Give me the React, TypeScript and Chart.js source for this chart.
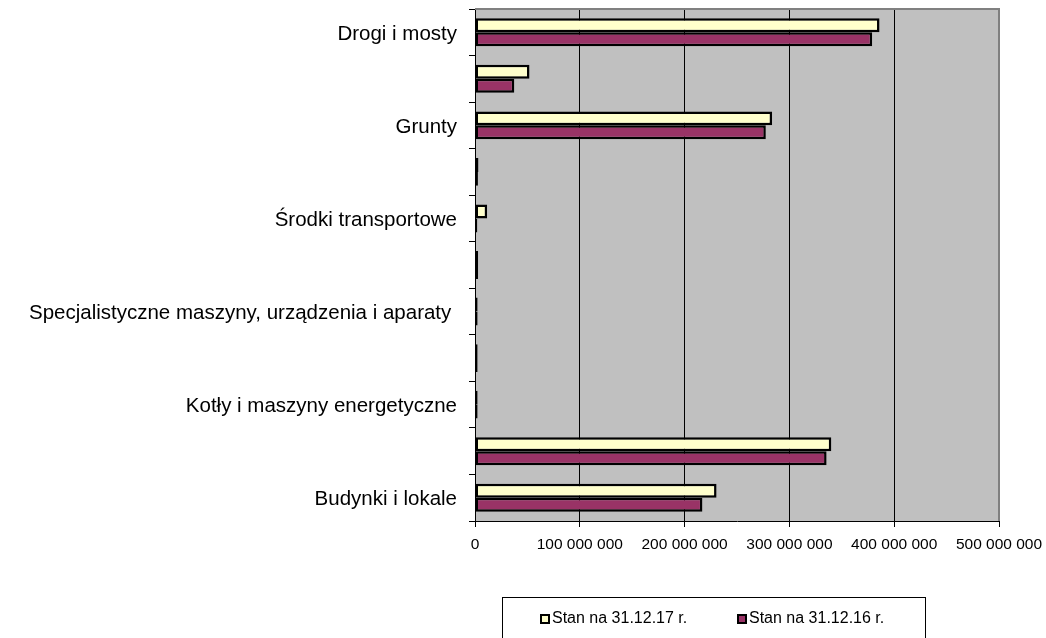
import React, { useEffect, useRef } from "react";
import { Chart, registerables } from "chart.js";

Chart.register(...registerables);

// Categories listed top-to-bottom as they appear in the chart
const categories = [
  "Drogi i mosty",
  "Wartości niematerialne i prawne",
  "Grunty",
  "Narzędzia, przyrządy, ruchomości i wyposażenie",
  "Środki transportowe",
  "Urządzenia techniczne",
  "Specjalistyczne maszyny, urządzenia i aparaty ",
  "Maszyny, urządzenia i aparaty ogólnego zastosowania",
  "Kotły i maszyny energetyczne",
  "Obiekty inżynierii lądowej i wodnej",
  "Budynki i lokale",
];

const stan17 = [386000000, 52000000, 283500000, 3300000, 11600000, 3000000, 2500000, 2500000, 2500000, 340000000, 230500000];
const stan16 = [379000000, 37500000, 277500000, 2800000, 2200000, 3000000, 2500000, 2500000, 2500000, 335500000, 217000000];

const seriesLabels = ["Stan na 31.12.17 r.", "Stan na 31.12.16 r."];
const seriesColors = ["#FFFFCC", "#993366"];

const xTickLabels = ["0", "100 000 000", "200 000 000", "300 000 000", "400 000 000", "500 000 000"];
const xMax = 500000000;
const xStep = 100000000;

const FONT = "'Liberation Sans', Arial, sans-serif";

const decorPlugin = {
  id: "decor",
  beforeDraw(chart: any) {
    const { ctx, chartArea } = chart;
    ctx.save();
    ctx.fillStyle = "#C0C0C0";
    ctx.fillRect(chartArea.left, chartArea.top, chartArea.right - chartArea.left, chartArea.bottom - chartArea.top);
    ctx.restore();
  },
  afterDraw(chart: any) {
    const { ctx, chartArea } = chart;
    ctx.save();
    // gray plot border top & right
    ctx.strokeStyle = "#808080";
    ctx.lineWidth = 2;
    ctx.beginPath();
    ctx.moveTo(chartArea.left, chartArea.top);
    ctx.lineTo(chartArea.right, chartArea.top);
    ctx.lineTo(chartArea.right, chartArea.bottom);
    ctx.stroke();

    // legend box
    const bx = 502.5, by = 597.5, bw = 423, bh = 60;
    ctx.fillStyle = "#FFFFFF";
    ctx.fillRect(bx, by, bw, bh);
    ctx.strokeStyle = "#000000";
    ctx.lineWidth = 1;
    ctx.strokeRect(bx, by, bw, bh);

    const items = [
      { x: 541, label: seriesLabels[0], color: seriesColors[0] },
      { x: 738, label: seriesLabels[1], color: seriesColors[1] },
    ];
    const cy = 619;
    ctx.font = `16px ${FONT}`;
    ctx.textBaseline = "middle";
    ctx.textAlign = "left";
    items.forEach((it) => {
      ctx.fillStyle = it.color;
      ctx.fillRect(it.x, cy - 4, 8, 8);
      ctx.strokeStyle = "#000";
      ctx.lineWidth = 2;
      ctx.strokeRect(it.x, cy - 4, 8, 8);
      ctx.fillStyle = "#000";
      ctx.fillText(it.label, it.x + 11, cy);
    });
    ctx.restore();
  },
};

export default function App() {
  const canvasRef = useRef<HTMLCanvasElement | null>(null);

  useEffect(() => {
    if (!canvasRef.current) return;
    const chart = new Chart(canvasRef.current, {
      type: "bar",
      data: {
        labels: categories,
        datasets: [
          {
            label: seriesLabels[0],
            data: stan17,
            backgroundColor: seriesColors[0],
            borderColor: "#000000",
            borderWidth: 2.5,
            borderSkipped: false,
            categoryPercentage: 0.6,
            barPercentage: 1,
          },
          {
            label: seriesLabels[1],
            data: stan16,
            backgroundColor: seriesColors[1],
            borderColor: "#000000",
            borderWidth: 2.5,
            borderSkipped: false,
            categoryPercentage: 0.6,
            barPercentage: 1,
          },
        ],
      },
      options: {
        indexAxis: "y",
        responsive: false,
        animation: false,
        devicePixelRatio: 1,
        layout: { padding: { top: 9, right: 47, bottom: 77, left: 0 } },
        plugins: {
          legend: { display: false },
          tooltip: { enabled: false },
          title: { display: false },
        },
        scales: {
          x: {
            type: "linear",
            position: "bottom",
            min: 0,
            max: xMax,
            ticks: {
              stepSize: xStep,
              callback: (_v: any, i: number) => xTickLabels[i],
              font: { family: FONT, size: 15.5 },
              color: "#000",
              padding: 8,
              maxRotation: 0,
            },
            grid: {
              color: (c: any) => (c.index === 5 ? "#808080" : "#000000"),
              tickColor: "#000000",
              tickLength: 6,
              lineWidth: 1,
            },
            border: { color: "#000", width: 1 },
            afterFit: (s: any) => {
              s.height = 40;
              s.paddingLeft = 0;
              s.paddingRight = 0;
            },
          },
          y: {
            type: "category",
            offset: true,
            ticks: {
              autoSkip: false,
              callback: (_v: any, i: number) => (i % 2 === 0 ? categories[i] : ""),
              font: { family: FONT, size: 20.5 },
              color: "#000",
              padding: 12,
              labelOffset: 2,
            },
            grid: {
              offset: true,
              drawOnChartArea: false,
              color: "#000",
              tickLength: 6,
            },
            border: { color: "#000", width: 1 },
            afterFit: (s: any) => {
              s.width = 475;
              s.paddingTop = 0;
              s.paddingBottom = 0;
            },
          },
        },
      },
      plugins: [decorPlugin],
    } as any);
    return () => chart.destroy();
  }, []);

  return (
    <div style={{ position: "fixed", left: 0, top: 0, width: 1046, height: 638, background: "#fff" }}>
      <canvas ref={canvasRef} width={1046} height={638} style={{ display: "block" }} />
    </div>
  );
}
